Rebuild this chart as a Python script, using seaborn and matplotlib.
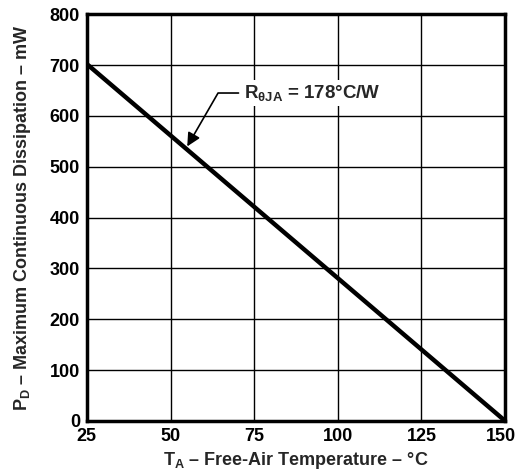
import matplotlib
matplotlib.use("Agg")
import matplotlib.pyplot as plt
import matplotlib.transforms as mtransforms
import seaborn as sns
import pandas as pd

# data
temp_c = [25, 150]
power_mw = [702, 0]
x_ticks = [25, 50, 75, 100, 125, 150]
y_ticks = [0, 100, 200, 300, 400, 500, 600, 700, 800]

sns.set_style("white")
plt.rcParams['font.family'] = ['Liberation Sans', 'DejaVu Sans']
plt.rcParams['font.weight'] = 'bold'
plt.rcParams['mathtext.fontset'] = 'custom'
plt.rcParams['mathtext.rm'] = 'Liberation Sans:bold'
plt.rcParams['mathtext.it'] = 'Liberation Sans:bold'
plt.rcParams['mathtext.bf'] = 'Liberation Sans:bold'

df = pd.DataFrame({'temp': temp_c, 'power': power_mw})

fig = plt.figure(figsize=(5.17, 4.74), dpi=100)
ax = fig.add_axes([0.168, 0.112, 0.809, 0.858])

sns.lineplot(data=df, x='temp', y='power', ax=ax, color='black', linewidth=3.2)

ax.set_xlim(25, 150)
ax.set_ylim(0, 800)
ax.set_xticks(x_ticks)
ax.set_yticks(y_ticks)
ax.grid(True, color='black', linewidth=1)
for s in ax.spines.values():
    s.set_color('black')
    s.set_linewidth(2.5)
ax.tick_params(axis='both', length=0, labelsize=13, pad=5, colors='black')
for lbl in ax.get_xticklabels() + ax.get_yticklabels():
    lbl.set_fontweight('bold')
# keep the last x label inside the figure
last = ax.get_xticklabels()[-1]
last.set_transform(last.get_transform() + mtransforms.ScaledTranslation(-4 / 100, 0, fig.dpi_scale_trans))

ax.set_xlabel(r'$\mathrm{T_A}$ – Free-Air Temperature – °C', fontsize=13, fontweight='bold', labelpad=4)
ax.set_ylabel(r'$\mathrm{P_D}$ – Maximum Continuous Dissipation – mW', fontsize=13, fontweight='bold', labelpad=12)

ax.annotate(r'$\mathrm{R_{\theta JA}}$ = 178°C/W', xy=(55.0, 540), xytext=(72, 645),
            fontsize=13.5, fontweight='bold', va='center', ha='left',
            bbox=dict(boxstyle='square,pad=0.15', fc='white', ec='none'),
            arrowprops=dict(arrowstyle='-|>', color='black', lw=1.2, mutation_scale=20,
                            shrinkA=2, shrinkB=0,
                            connectionstyle='angle,angleA=180,angleB=60,rad=0'))

fig.savefig('out.png', dpi=100)
